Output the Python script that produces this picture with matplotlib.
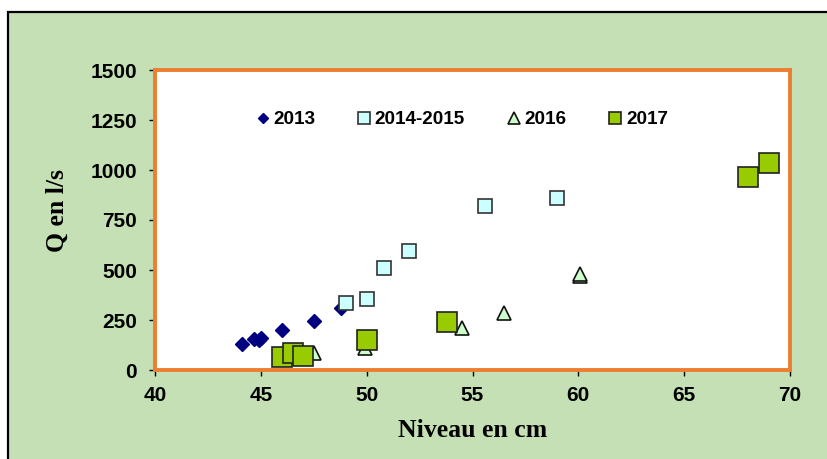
import matplotlib.pyplot as plt
from matplotlib.patches import Rectangle

# donnees
niv_2013 = [44.1, 44.7, 45.0, 44.9, 46.0, 47.5, 48.8]
q_2013 = [130, 153, 160, 150, 200, 245, 308]

niv_2014 = [49.0, 50.0, 50.8, 52.0, 55.6, 59.0]
q_2014 = [333, 353, 510, 593, 820, 858]

niv_2016 = [47.5, 46.8, 49.9, 54.5, 56.5, 60.1, 60.1]
q_2016 = [83, 80, 110, 212, 283, 470, 480]

niv_2017 = [46.0, 46.5, 47.0, 50.0, 53.8, 68.0, 69.0]
q_2017 = [63, 83, 72, 150, 238, 967, 1037]

x_ticks = [40, 45, 50, 55, 60, 65, 70]
y_ticks = [0, 250, 500, 750, 1000, 1250, 1500]

W, H = 828, 459
fig = plt.figure(figsize=(W / 100, H / 100), dpi=100)
fig.patch.set_facecolor('white')

# fond vert avec cadre noir
fig.patches.append(Rectangle((8 / W, -0.1), 1.2, 1.1 - 12 / H, transform=fig.transFigure,
                             facecolor='#C5E0B4', edgecolor='black', linewidth=1.6, zorder=-10))

ax = fig.add_axes([155 / W, 1 - 370 / H, 635 / W, 300 / H])
ax.set_facecolor('white')

ax.plot(niv_2013, q_2013, 'D', ms=7.2, color='#000080', mec='#000080', ls='none', label='2013')
ax.plot(niv_2014, q_2014, 's', ms=10, color='#CCFFFF', mec='#333333', mew=1.2, ls='none', label='2014-2015')
ax.plot(niv_2016, q_2016, '^', ms=10, color='#CCFFCC', mec='#111111', mew=1.2, ls='none', label='2016')
ax.plot(niv_2017, q_2017, 's', ms=14, color='#99CC00', mec='#222222', mew=1.2, ls='none', label='2017')

ax.set_xlim(40, 70)
ax.set_ylim(0, 1500)
ax.set_xticks(x_ticks)
ax.set_yticks(y_ticks)

tick_font = dict(family='Liberation Sans', weight='bold', size=15)
ax.set_xticklabels([str(v) for v in x_ticks], fontdict=tick_font)
ax.set_yticklabels([str(v) for v in y_ticks], fontdict=tick_font)
ax.tick_params(direction='out', length=4, width=1, color='black')
ax.tick_params(axis='x', pad=7.5)
ax.tick_params(axis='y', pad=9)

for sp in ax.spines.values():
    sp.set_color('#ED7D31')
    sp.set_linewidth(2.8)

ax.set_xlabel('Niveau en cm', family='Liberation Serif', weight='bold', size=18.5, va='center')
ax.set_ylabel('Q en l/s', family='Liberation Serif', weight='bold', size=18.5, va='center')
ax.xaxis.set_label_coords(0.5, -0.203)
ax.yaxis.set_label_coords(-0.154, 0.53)

leg = ax.legend(loc='center left', bbox_to_anchor=(0.131, 0.834), ncol=4, frameon=False,
                handlelength=0.8, handletextpad=0.15, columnspacing=2.2,
                prop=dict(family='Liberation Sans', weight='bold', size=13.6))
for h, ms in zip(leg.legend_handles, [5.2, 8, 8, 8]):
    h.set_markersize(ms)

fig.savefig('out.png', dpi=100)
